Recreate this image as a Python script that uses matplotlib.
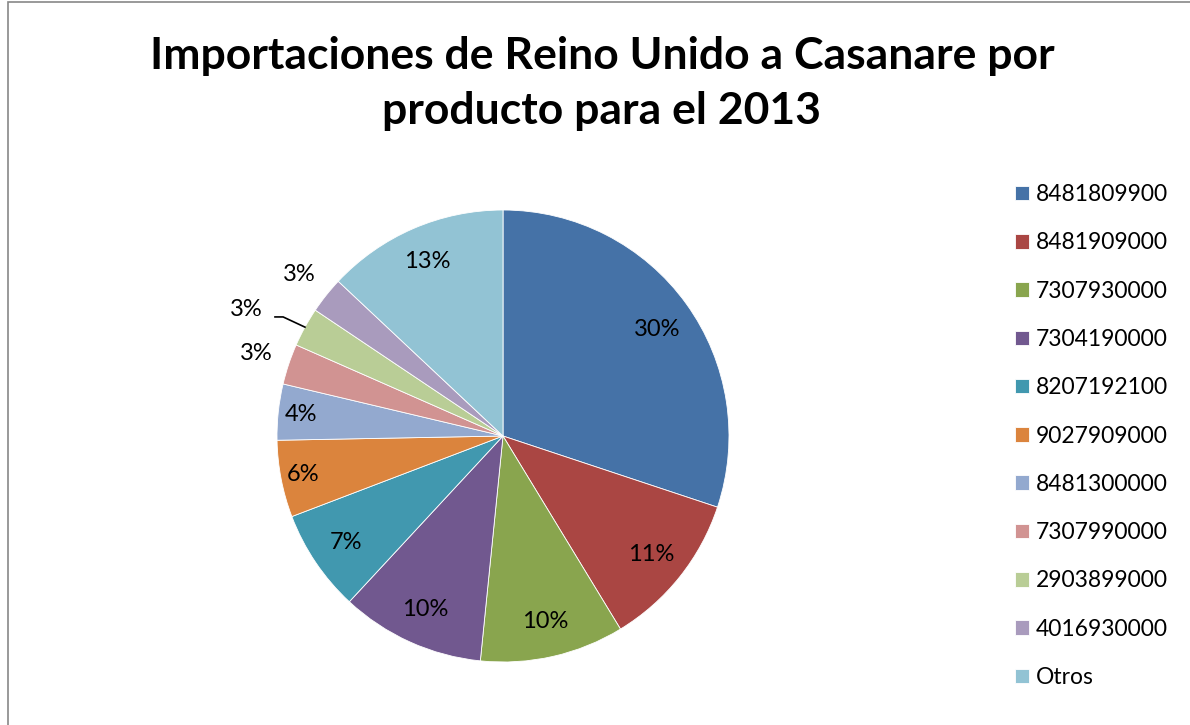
import matplotlib.pyplot as plt
import numpy as np
from matplotlib.patches import Rectangle

# datos
productos = ['8481809900', '8481909000', '7307930000', '7304190000', '8207192100',
             '9027909000', '8481300000', '7307990000', '2903899000', '4016930000', 'Otros']
porcentajes = [30.1, 11.2, 10.3, 10.3, 7.3, 5.5, 4.0, 2.9, 2.8, 2.6, 13.0]
etiquetas = ['30%', '11%', '10%', '10%', '7%', '6%', '4%', '3%', '3%', '3%', '13%']
colores = ['#4572A7', '#AA4643', '#89A54E', '#71588F', '#4198AF', '#DB843D',
           '#93A9CF', '#D19392', '#B9CD96', '#A99BBD', '#92C3D4']

plt.rcParams['font.family'] = ['Lato', 'DejaVu Sans']

fig = plt.figure(figsize=(11.9, 7.25), dpi=100)
W, H = 1190, 725

# marco del grafico
fig.patches.append(Rectangle((8 / W, -0.05), 1.1, (723 / H) + 0.05, transform=fig.transFigure,
                             fill=False, edgecolor='#878787', linewidth=1.2))

# ejes de la torta: centro (503, 436) px, radio 226 px
cx, cy, r = 503, 436, 226
lim = 1.4
size = 2 * lim * r
ax = fig.add_axes([(cx - size / 2) / W, (H - cy - size / 2) / H, size / W, size / H])

wedges, _ = ax.pie(porcentajes, colors=colores, startangle=90, counterclock=False,
                   radius=1, wedgeprops=dict(linewidth=0.6, edgecolor='white'))
ax.set_xlim(-lim, lim)
ax.set_ylim(-lim, lim)
ax.set_aspect('equal')
ax.axis('off')

# etiquetas de porcentaje
for i, (w, txt) in enumerate(zip(wedges, etiquetas)):
    ang = np.deg2rad((w.theta1 + w.theta2) / 2)
    dx, dy = np.cos(ang), np.sin(ang)
    if i in (7, 9):
        d = 1.15
    elif i == 8:
        d = 1.27
    elif i in (5, 6):
        d = 0.9
    else:
        d = 0.84
    x, y = d * dx, d * dy
    if i == 0:
        y -= 0.02
    if i == 8:
        x, y = x - 0.024, y - 0.05
        ax.plot([dx, x + 0.164, x + 0.128], [dy, y - 0.035, y - 0.035],
                color='black', linewidth=1.2)
    ax.text(x, y, txt, ha='center', va='center', fontsize=17, color='black')

# leyenda
fig.legend(wedges, productos, loc='upper left', bbox_to_anchor=(1006 / W, 1 - 175 / H),
           frameon=False, fontsize=16.5, handlelength=0.6, handleheight=0.6,
           handletextpad=0.3, labelspacing=1.19, borderaxespad=0)

fig.suptitle('Importaciones de Reino Unido a Casanare por\nproducto para el 2013',
             x=602 / W, y=1 - 36 / H, va='top', fontsize=32, fontweight='bold',
             linespacing=1.45)

fig.savefig('out.png', dpi=100)
